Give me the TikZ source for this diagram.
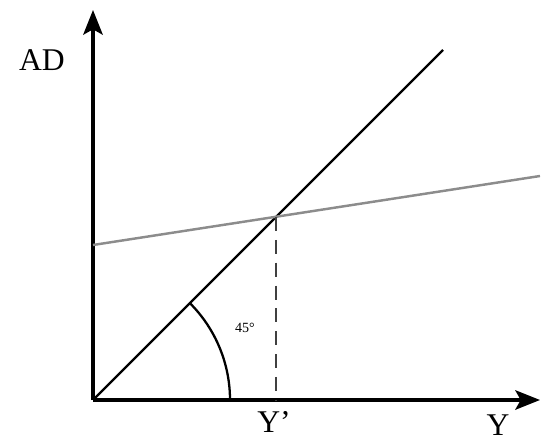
\documentclass[tikz,border=0pt]{standalone}
\usepackage{fontspec}
\setmainfont{Liberation Serif}
\usetikzlibrary{arrows.meta}
\begin{document}
\begin{tikzpicture}[x=0.02cm,y=0.02cm,every node/.style={inner sep=0pt,font=\fontsize{18}{20}\selectfont}]
  \useasboundingbox (-93,-43) rectangle (453,400);

  % Origen y extremos de los ejes
  \coordinate (o) at (0,0);
  \coordinate (ymax) at (0,390);
  \coordinate (xmax) at (447,0);

  % Puntos de la recta de 45 grados y de la demanda agregada
  \coordinate (r) at (350,350);
  \coordinate (a0) at (0,155);
  \coordinate (a1) at (447,224);
  \coordinate (e) at (183,183);
  \coordinate (ye) at (183,0);

  % Ejes
  \foreach \from/\to in {o/ymax, o/xmax}
    \draw[line width=2.2pt,-{Stealth[length=14pt,width=11pt,inset=3pt]}] (\from) -- (\to);

  % Recta de 45 grados y demanda agregada
  \draw[line width=1.3pt] (o) -- (r);
  \draw[line width=1.4pt,black!45] (a0) -- (a1);

  % Equilibrio
  \draw[line width=1.5pt,black!75,dash pattern=on 8pt off 5pt] (e) -- (ye);
  \draw[line width=1.3pt] (137,0) arc[start angle=0,end angle=45,radius=137];

  % Etiquetas
  \node (ad) at (-51,340) {AD};
  \node (y) at (405,-25) {Y};
  \node (yp) at (181,-22) {Y'};
  \node[font=\fontsize{8}{9}\selectfont] (ang) at (152,72) {45°};
\end{tikzpicture}
\end{document}
